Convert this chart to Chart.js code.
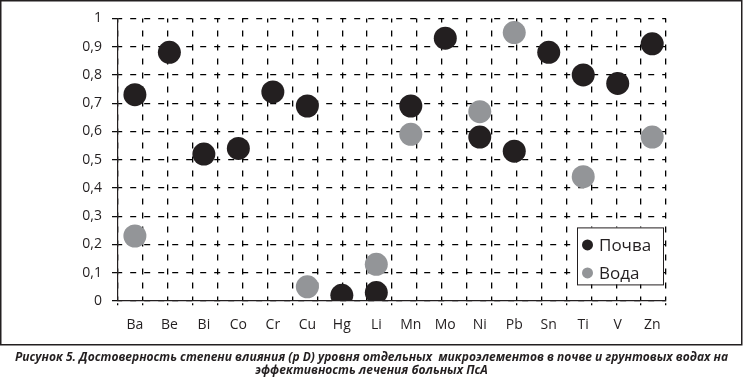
<!DOCTYPE html>
<html>
<head>
<meta charset="utf-8">
<script src="https://cdn.jsdelivr.net/npm/chart.js@4/dist/chart.umd.min.js"></script>
<style>
html,body{margin:0;padding:0;background:#fff;}
#wrap{width:743px;height:379px;position:relative;}
canvas{display:block;}
</style>
</head>
<body>
<div id="wrap"><canvas id="c" width="743" height="379"></canvas></div>
<script>
// ---- data ----
const categories = ['Ba','Be','Bi','Co','Cr','Cu','Hg','Li','Mn','Mo','Ni','Pb','Sn','Ti','V','Zn'];
const soilValues  = [0.73,0.88,0.52,0.54,0.74,0.69,0.02,0.03,0.69,0.93,0.58,0.53,0.88,0.80,0.77,0.91];
const waterValues = [0.23,null,null,null,null,0.05,null,0.13,0.59,null,0.67,0.95,null,0.44,null,0.58];
const seriesNames = ['Почва','Вода'];
const yTicks = [0,0.1,0.2,0.3,0.4,0.5,0.6,0.7,0.8,0.9,1];
const caption = [
  'Рисунок 5. Достоверность степени влияния (р D) уровня отдельных  микроэлементов в почве и грунтовых водах на',
  'эффективность лечения больных ПсА'
];

const INK = '#231f20';
const SOIL = '#231f20';
const WATER = '#939598';
const FONT = "'Open Sans', 'Noto Sans', sans-serif";
const CAPFONT = "'Liberation Sans Narrow', 'Open Sans', sans-serif";

function toPoints(values){
  const pts = [];
  values.forEach((v,i)=>{ if(v!==null) pts.push({x:i,y:v}); });
  return pts;
}

const frame = {
  id:'frame',
  beforeDraw(chart){
    const c = chart.ctx;
    c.save();
    c.fillStyle='#fff';
    c.fillRect(0,0,chart.width,chart.height);
    c.restore();
  },
  afterDraw(chart){
    const c = chart.ctx;
    const a = chart.chartArea;
    c.save();
    c.setLineDash([]);
    // outer frame
    c.strokeStyle = INK;
    c.lineWidth = 1.5;
    c.strokeRect(0.75,0.75,741,344);
    // legend box
    const lx = a.right - 89, ly = a.top + 209, lw = 86, lh = 57;
    c.fillStyle = '#fff';
    c.fillRect(lx,ly,lw,lh);
    c.strokeStyle = INK;
    c.lineWidth = 1;
    c.strokeRect(lx+0.5,ly+0.5,lw,lh);
    const ds = chart.data.datasets;
    ds.forEach((d,i)=>{
      const cy = ly + 17.5 + i*28;
      c.beginPath();
      c.arc(lx+10.5, cy, 5.5, 0, Math.PI*2);
      c.fillStyle = d.backgroundColor;
      c.fill();
      c.fillStyle = INK;
      c.font = "17px " + FONT;
      c.textBaseline = 'middle';
      c.textAlign = 'left';
      c.fillText(d.label, lx+22, cy+1);
    });
    // caption
    c.fillStyle = INK;
    c.textAlign = 'center';
    c.textBaseline = 'middle';
    c.font = "italic bold 13px " + CAPFONT;
    const w0 = c.measureText(caption[0]).width;
    const size = 13 * 714 / w0;
    c.font = "italic bold " + size.toFixed(2) + "px " + CAPFONT;
    c.fillText(caption[0], 371.5, 357.5);
    c.fillText(caption[1], 371.5, 370.5);
    c.restore();
  }
};

new Chart(document.getElementById('c'), {
  type:'scatter',
  data:{
    datasets:[
      {label:seriesNames[0], data:toPoints(soilValues), backgroundColor:SOIL, borderColor:SOIL, borderWidth:0, pointRadius:11.5, pointHoverRadius:11.5, xAxisID:'x', yAxisID:'y'},
      {label:seriesNames[1], data:toPoints(waterValues), backgroundColor:WATER, borderColor:WATER, borderWidth:0, pointRadius:11.5, pointHoverRadius:11.5, xAxisID:'x', yAxisID:'y'}
    ]
  },
  options:{
    responsive:false,
    maintainAspectRatio:false,
    devicePixelRatio:1,
    animation:false,
    events:[],
    layout:{padding:{top:16,right:77,left:0,bottom:34}},
    plugins:{
      legend:{display:false},
      tooltip:{enabled:false},
      title:{display:false}
    },
    scales:{
      xg:{
        type:'linear', position:'bottom', weight:0,
        min:0, max:22,
        ticks:{display:false, stepSize:1, maxTicksLimit:40},
        grid:{color:'#000', lineWidth:1.3, drawTicks:true, tickLength:5, tickColor:'#000', tickWidth:1.3, tickBorderDash:[0,2,2,6]},
        border:{display:true, color:INK, width:1.2, dash:[6,8], dashOffset:2},
        afterFit(s){ s.height = 0; }
      },
      x:{
        type:'linear', position:'bottom', weight:1,
        min:-0.49, max:15.4,
        afterBuildTicks(s){ s.ticks = categories.map((_,i)=>({value:i})); },
        ticks:{callback:(v)=>categories[v], color:INK, font:{family:FONT, size:14}, padding:16, maxRotation:0, autoSkip:false},
        grid:{display:false, drawTicks:false},
        border:{display:false},
        afterFit(s){ s.height = 44; }
      },
      y:{
        type:'linear', position:'left',
        min:0, max:1,
        afterBuildTicks(s){ s.ticks = yTicks.map(v=>({value:v})); },
        ticks:{callback:(v)=>String(Math.round(v*10)/10).replace('.',','), color:INK, font:{family:FONT, size:14}, padding:10},
        grid:{color:'#000', lineWidth:1.3, drawTicks:true, tickLength:6, tickColor:'#000', tickWidth:1.2, tickBorderDash:[]},
        border:{display:true, color:INK, width:1.2, dash:[6,8], dashOffset:2},
        afterFit(s){ s.width = 118; }
      }
    }
  },
  plugins:[frame]
});
</script>
</body>
</html>
